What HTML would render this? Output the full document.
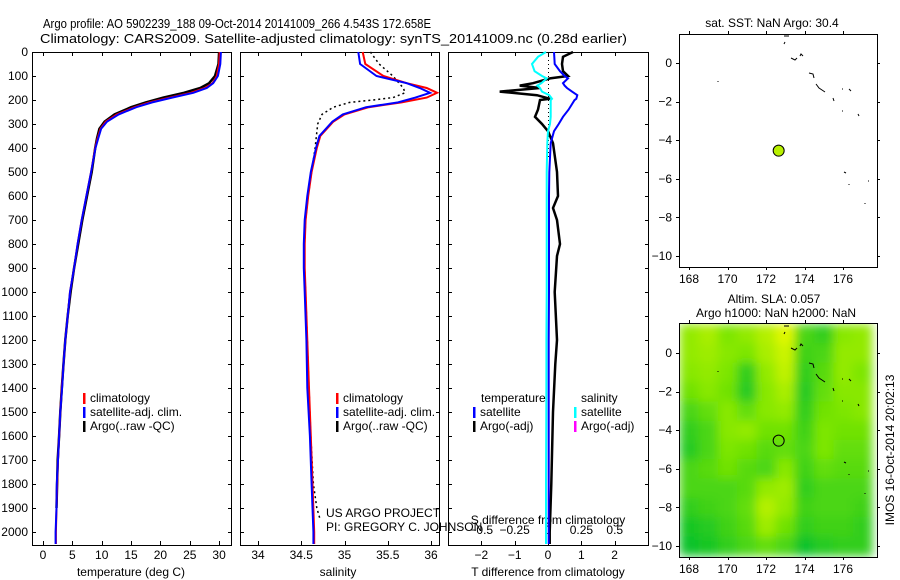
<!DOCTYPE html>
<html><head><meta charset="utf-8"><style>
html,body{margin:0;padding:0;background:#fff}
svg{display:block;font-family:"Liberation Sans",sans-serif}
</style></head><body>
<svg id="fig" width="900" height="580" viewBox="0 0 900 580" xmlns="http://www.w3.org/2000/svg"></svg>
<script>
// ---------- DATA ----------
const depthT = [0,50,100,130,150,170,190,210,230,260,290,320,360,400,500,600,700,800,900,1000,1100,1200,1300,1400,1500,1600,1700,1800,1900,2000,2050];
const tempClim = [30.1,30.0,29.6,28.9,27.6,25.2,21.6,18.2,15.6,12.6,10.7,9.8,9.3,8.9,8.2,7.4,6.6,5.9,5.3,4.6,4.2,3.8,3.5,3.2,2.95,2.75,2.55,2.4,2.3,2.2,2.2];
const tempSat  = [30.3,30.2,29.8,29.0,27.9,25.6,22.0,18.6,15.9,12.9,10.9,9.9,9.4,8.95,8.2,7.4,6.6,5.9,5.3,4.6,4.2,3.8,3.5,3.25,2.95,2.75,2.55,2.35,2.3,2.15,2.15];
const tempArgo = [30.0,29.9,29.3,28.3,26.8,24.0,20.5,17.5,15.0,12.2,10.5,9.6,9.2,8.9,8.3,7.5,6.7,6.0,5.3,4.7,4.2,3.8,3.5,3.2,2.95,2.75,2.5,2.4,2.3];
const depthS = [0,50,100,130,150,170,190,210,230,260,290,350,400,500,600,700,800,900,1000,1200,1400,1600,1800,2000,2050];
const salClim = [35.21,35.24,35.45,35.72,35.95,36.07,35.95,35.66,35.28,35.00,34.87,34.72,34.68,34.62,34.58,34.55,34.54,34.54,34.55,34.57,34.59,34.61,34.63,34.65,34.65];
const salSat  = [35.16,35.18,35.37,35.72,35.87,35.99,35.82,35.62,35.25,34.98,34.86,34.71,34.67,34.61,34.57,34.54,34.53,34.53,34.54,34.56,34.57,34.60,34.62,34.64,34.64];
const depthSA = [0,50,100,150,170,190,200,210,230,260,300,400,500,600,700,800,900,1000,1200,1400,1600,1800,1900,1950];
const salArgo = [35.30,35.40,35.56,35.68,35.70,35.56,35.33,35.06,34.87,34.74,34.69,34.66,34.62,34.58,34.55,34.54,34.54,34.55,34.57,34.59,34.61,34.64,34.68,34.72];
const depthD = [0,20,50,80,100,110,130,140,150,165,180,195,200,240,270,300,330,380,500,600,650,700,800,850,1000,1200,1300,1500,1800,2000,2050];
const dTempArgo = [0.75,0.45,0.42,0.45,0.6,0.06,-0.45,-0.85,-0.24,-1.45,-0.33,0.06,-0.24,-0.3,-0.39,-0.18,0.0,0.15,0.27,0.3,0.15,0.27,0.36,0.27,0.2,0.27,0.22,0.15,0.1,0.05,0.05];
const dTempSat  = [0.18,0.19,0.2,0.36,0.5,0.6,0.45,0.5,0.57,0.72,0.88,0.85,0.8,0.62,0.45,0.32,0.18,0.08,0.04,0.03,0.03,0.03,0.03,0.03,0.03,0.02,0.02,0.02,0.02,0.02,0.02];
const dSalSat   = [-0.015,-0.075,-0.12,-0.10,-0.045,-0.01,-0.05,-0.08,-0.06,-0.045,0.01,0.03,0.02,0.02,0.02,0.015,0.0,-0.005,-0.01,-0.01,-0.01,-0.01,-0.01,-0.01,-0.01,-0.012,-0.012,-0.013,-0.015,-0.015,-0.015];
const depthTicks = [0,100,200,300,400,500,600,700,800,900,1000,1100,1200,1300,1400,1500,1600,1700,1800,1900,2000];
const tempTicks = [0,5,10,15,20,25,30];
const salTicks = [34,34.5,35,35.5,36];
const dTTicks = [-2,-1,0,1,2];
const dSTicks = [-0.5,-0.25,0,0.25,0.5];
const lonTicks = [168,170,172,174,176];
const latTicks = [0,-2,-4,-6,-8,-10];
const argoLon = 172.658, argoLat = -4.543;
const slaLons = [167.5,168.5,169.5,170.5,171.5,172.5,173.5,174.5,175.5,176.5];
const slaLats = [1.5,0.5,-0.5,-1.5,-2.5,-3.5,-4.5,-5.5,-6.5,-7.5,-8.5,-9.5];
const slaValues = [
 [0.6,0.7,0.5,0.6,0.75,0.95,0.3,0.2,0.55,0.6],
 [0.6,0.65,0.55,0.5,0.7,0.85,0.25,0.3,0.6,0.6],
 [0.55,0.6,0.5,0.2,0.6,0.8,0.2,0.35,0.6,0.5],
 [0.45,0.55,0.45,0.15,0.55,0.7,0.15,0.4,0.55,0.55],
 [0.3,0.4,0.55,0.4,0.55,0.6,0.2,0.45,0.5,0.55],
 [0.2,0.3,0.55,0.6,0.45,0.45,0.25,0.5,0.45,0.45],
 [0.15,0.3,0.5,0.45,0.35,0.4,0.3,0.5,0.4,0.4],
 [0.3,0.35,0.45,0.35,0.3,0.55,0.25,0.4,0.35,0.35],
 [0.3,0.3,0.3,0.35,0.6,0.65,0.2,0.3,0.3,0.3],
 [0.2,0.25,0.3,0.4,0.75,0.6,0.25,0.3,0.3,0.25],
 [0.1,0.15,0.25,0.35,0.65,0.45,0.2,0.25,0.25,0.2],
 [0.05,0.1,0.2,0.3,0.4,0.3,0.05,0.15,0.2,0.2]
];
// ---------- HELPERS ----------
const NS="http://www.w3.org/2000/svg";
const svg=document.getElementById('fig');
function mk(tag,attrs,parent){const e=document.createElementNS(NS,tag);for(const k in attrs)e.setAttribute(k,attrs[k]);(parent||svg).appendChild(e);return e;}
function txt(s,x,y,size,anchor,parent){const t=mk('text',{x:x,y:y,'font-size':size,'text-anchor':anchor||'start',fill:'#000'},parent);t.textContent=s;return t;}
const yD = d => 52 + d*0.24;
const xT = v => 43 + v*5.87;
const xS = v => 258 + (v-34)*86.5;
const xDT = v => 548 + v*33.3;
const xDS = v => 548 + v*133.5;
const xLon = v => 689 + (v-168)*19.25;
const yLat1 = v => 63 - v*19.3;
const yLat2 = v => 353 - v*19.3;
function poly(xs,ys,fx,fy,color,w,dash,name){
  const pts=xs.map((v,i)=>fx(v).toFixed(1)+','+fy(ys[i]).toFixed(1)).join(' ');
  const p=mk('polyline',{points:pts,fill:'none',stroke:color,'stroke-width':w});
  if(dash)p.setAttribute('stroke-dasharray',dash);
  
  
  return p;
}
function frame(x0,y0,x1,y1,name){
  const r=mk('rect',{x:x0+0.5,y:y0+0.5,width:x1-x0,height:y1-y0,fill:'none',stroke:'#000','stroke-width':1});
  
  
}
// title
const t1=txt('Argo profile: AO 5902239_188 09-Oct-2014 20141009_266 4.543S 172.658E',43,28,13);
t1.setAttribute('textLength','388');
t1.setAttribute('lengthAdjust','spacingAndGlyphs');


const t2=txt('Climatology: CARS2009. Satellite-adjusted climatology: synTS_20141009.nc (0.28d earlier)',40,43,13);
t2.setAttribute('textLength','587');
t2.setAttribute('lengthAdjust','spacingAndGlyphs');



// ---------- PROFILE PANELS ----------
const panels=[[32,231,'temperature-panel'],[240,439,'salinity-panel'],[448,648,'difference-panel']];
panels.forEach(p=>{
  frame(p[0],52,p[1],545,p[2]+'-frame');
  depthTicks.forEach(d=>{
    const y=Math.round(yD(d))+0.5;
    mk('line',{x1:p[0],y1:y,x2:p[0]+4,y2:y,stroke:'#000'});
    mk('line',{x1:p[1]-3,y1:y,x2:p[1]+1,y2:y,stroke:'#000'});
  });
});
depthTicks.forEach(d=>{
  const t=txt(String(d),28,yD(d)+4,12,'end');
  
  
});
function xTicks(ticks,fx,name,yLab,top){
  ticks.forEach(v=>{
    const x=Math.round(fx(v))+0.5;
    mk('line',{x1:x,y1:545,x2:x,y2:541,stroke:'#000'});
    if(top) mk('line',{x1:x,y1:52,x2:x,y2:56,stroke:'#000'});
    const t=txt(String(v).replace('-','\u2212'),fx(v),yLab,12,'middle');
    
    
  });
}
xTicks(tempTicks,xT,'temperature-tick-label',559,true);
xTicks(salTicks,xS,'salinity-tick-label',559,true);
xTicks(dTTicks,xDT,'t-difference-tick-label',559,true);
dSTicks.forEach(v=>{
  const t=txt(String(v).replace('-','\u2212'),xDS(v),534,12,'middle');
  
  
});
[['temperature (deg C)',131,'temperature-axis-title'],['salinity',338,'salinity-axis-title'],['T difference from climatology',548,'t-difference-axis-title']].forEach(a=>{
  const t=txt(a[0],a[1],576,12,'middle');
  
  
});
const sdt=txt('S difference from climatology',548,524,12,'middle');



// temperature
poly(tempArgo,depthT.slice(0,tempArgo.length),xT,yD,'#000',2.5,null,'argo-temperature-line');
poly(tempClim,depthT,xT,yD,'#f00',2,null,'climatology-temperature-line');
poly(tempSat,depthT,xT,yD,'#00f',2,null,'satellite-temperature-line');
// salinity
poly(salArgo,depthSA,xS,yD,'#000',1.5,'2 3','argo-salinity-line');
poly(salClim,depthS,xS,yD,'#f00',2,null,'climatology-salinity-line');
poly(salSat,depthS,xS,yD,'#00f',2,null,'satellite-salinity-line');
// differences
const zl=mk('line',{x1:548.5,y1:52,x2:548.5,y2:160,stroke:'#000','stroke-dasharray':'1 3'});


poly(dTempArgo,depthD,xDT,yD,'#000',2.5,null,'argo-temperature-difference-line');
poly(dTempSat,depthD,xDT,yD,'#00f',2,null,'satellite-temperature-difference-line');
poly(dSalSat,depthD,xDS,yD,'#0ff',2,null,'satellite-salinity-difference-line');

// legends
function legendEntry(x,y,color,label,name){
  const g=mk('g',{});
  
  
  if(color) mk('rect',{x:x,y:y-9,width:2.5,height:11,fill:color},g);
  txt(label,x+7,y,12,'start',g);
}
[[83,'temperature'],[336,'salinity']].forEach(l=>{
  legendEntry(l[0],402,'#f00','climatology','legend-climatology-'+l[1]);
  legendEntry(l[0],416,'#00f','satellite-adj. clim.','legend-satellite-'+l[1]);
  legendEntry(l[0],430,'#000','Argo(..raw -QC)','legend-argo-'+l[1]);
});
legendEntry(474,402,null,'temperature','legend-temperature-header');
legendEntry(574,402,null,'salinity','legend-salinity-header');
legendEntry(473,416,'#00f','satellite','legend-satellite-temperature-diff');
legendEntry(473,430,'#000','Argo(-adj)','legend-argo-temperature-diff');
legendEntry(574,416,'#0ff','satellite','legend-satellite-salinity-diff');
legendEntry(574,430,'#f0f','Argo(-adj)','legend-argo-salinity-diff');
const pr=txt('US ARGO PROJECT',326,517,12);


const pi=txt('PI: GREGORY C. JOHNSON',326,531,12);



// ---------- MAPS ----------
function colorFor(v){
  let r,g,b;
  if(v<0.5){const f=v/0.5;r=0+f*125;g=190+f*40;b=45-f*45;}
  else{const f=(v-0.5)/0.5;r=125+f*110;g=230+f*20;b=0;}
  return 'rgb('+Math.round(r)+','+Math.round(g)+','+Math.round(b)+')';
}
const defs=mk('defs',{});
const clip=mk('clipPath',{id:'mapclip'},defs);
mk('rect',{x:679,y:323,width:198,height:234},clip);
const flt=mk('filter',{id:'soft',x:'-10%',y:'-10%',width:'120%',height:'120%'},defs);
mk('feGaussianBlur',{stdDeviation:'5',edgeMode:'duplicate'},flt);
const heatClip=mk('g',{'clip-path':'url(#mapclip)'});


const heat=mk('g',{filter:'url(#soft)'},heatClip);


slaValues.forEach((row,i)=>row.forEach((v,j)=>{
  const x0=xLon(slaLons[j]), y0=yLat2(slaLats[i]);
  const c=mk('rect',{x:x0.toFixed(1),y:y0.toFixed(1),width:(19.25+0.6).toFixed(1),height:(19.3+0.6).toFixed(1),fill:colorFor(v)},heat);
  
  
}));
// maps frames/ticks
[[34,267,yLat1,'sst-map'],[323,557,yLat2,'sla-map']].forEach(m=>{
  frame(679,m[0],877,m[1],m[3]+'-frame');
  lonTicks.forEach(v=>{
    const x=Math.round(xLon(v))+0.5;
    mk('line',{x1:x,y1:m[0]-3,x2:x,y2:m[0],stroke:'#000'});
    mk('line',{x1:x,y1:m[1],x2:x,y2:m[1]+3,stroke:'#000'});
    const t=txt(String(v),xLon(v),m[1]+16,12,'middle');
    
    
  });
  latTicks.forEach(v=>{
    const y=Math.round(m[2](v))+0.5;
    mk('line',{x1:676,y1:y,x2:679,y2:y,stroke:'#000'});
    mk('line',{x1:877,y1:y,x2:880,y2:y,stroke:'#000'});
    const t=txt(String(v).replace('-','\u2212'),672,m[2](v)+4,12,'end');
    
    
  });
  const off=m[2](0)-63;
  const cg=mk('g',{fill:'none',stroke:'#000','stroke-width':1,transform:'translate(0,'+off+')'});
  
  
  ['784,36 789,36','784,44 785,42','791,58 795,60 797,58','800,56 801,54 803,56','809,73 813,74 814,78','816,84 819,88 822,90 825,92','833,98 834,101','842,89 843,89','849,89 851,91','842,111 843,111','858,114 859,116','844,172 846,173','849,184 849,185','868,181 869,181','865,203 865,204','718,81 718,82'].forEach(p=>mk('polyline',{points:p},cg));
});
const dot=mk('circle',{cx:xLon(argoLon),cy:yLat1(argoLat),r:5.5,fill:'#b8f000',stroke:'#000','stroke-width':1});


const ring=mk('circle',{cx:xLon(argoLon),cy:yLat2(argoLat),r:5.5,fill:'none',stroke:'#000','stroke-width':1});


const mt1=txt('sat. SST: NaN Argo: 30.4',772,27,12,'middle');


const mt2=txt('Altim. SLA: 0.057',774,303,12,'middle');


const mt3=txt('Argo h1000: NaN h2000: NaN',776,317,12,'middle');


const imos=txt('IMOS 16-Oct-2014 20:02:13',0,0,12,'middle');
imos.setAttribute('transform','translate(894,450) rotate(-90)');


</script>
</body></html>
